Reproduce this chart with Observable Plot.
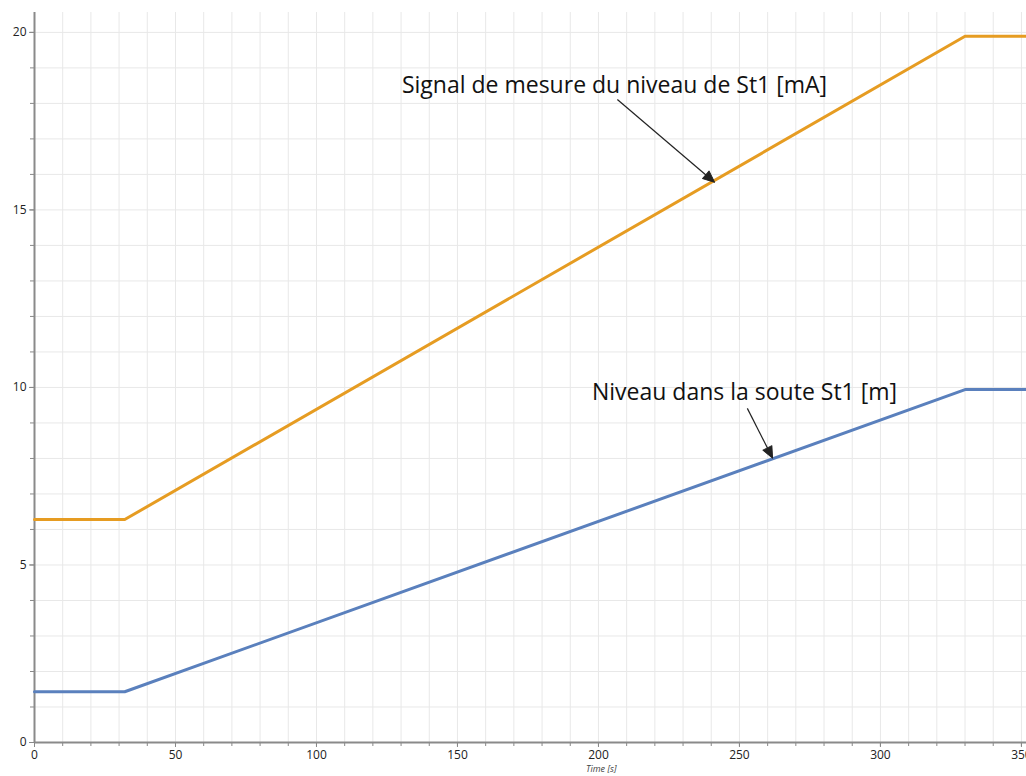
<!DOCTYPE html>
<html>
<head>
<meta charset="utf-8">
<script src="https://cdn.jsdelivr.net/npm/d3@7"></script>
<script src="https://cdn.jsdelivr.net/npm/@observablehq/plot@0.6"></script>
<style>
  html, body { margin: 0; padding: 0; background: #fff; overflow: hidden; }
  #chart svg { display: block; }
</style>
</head>
<body>
<div id="chart"></div>
<script>
// ---- Data ----
const time   = [0, 32, 330, 352];
const signal = [6.28, 6.28, 19.89, 19.89];   // Signal de mesure du niveau de St1 [mA]
const level  = [1.43, 1.43, 9.94, 9.94];     // Niveau dans la soute St1 [m]

const xTickLabels = [0, 50, 100, 150, 200, 250, 300, 350];
const yTickLabels = [0, 5, 10, 15, 20];
const xMinor = d3.range(0, 360, 10);
const yMinor = d3.range(0, 21, 1);

const labelTexts = ["Signal de mesure du niveau de St1 [mA]", "Niveau dans la soute St1 [m]"];
const labelX = [205.7, 251.8];
const labelY = [18.5, 9.86];

const arrowX1 = [206.7, 252.8];
const arrowY1 = [18.11, 9.41];
const arrowX2 = [240.4, 261.3];
const arrowY2 = [15.83, 8.08];

const xTitle = "Time [s]";

// ---- Build tables ----
const signalData = time.map((t, i) => ({t, v: signal[i]}));
const levelData  = time.map((t, i) => ({t, v: level[i]}));
const labels = labelTexts.map((text, i) => ({text, x: labelX[i], y: labelY[i]}));
const arrows = arrowX1.map((x1, i) => ({x1, y1: arrowY1[i], x2: arrowX2[i], y2: arrowY2[i]}));

const font = "Open Sans, Noto Sans, sans-serif";

const chart = Plot.plot({
  width: 1026,
  height: 776,
  marginLeft: 34,
  marginRight: 0,
  marginTop: 12,
  marginBottom: 34,
  style: {fontFamily: font, background: "#fff", overflow: "visible"},
  x: {domain: [0, 351.8]},
  y: {domain: [0, 20.56]},
  marks: [
    Plot.gridX(xMinor, {stroke: "#e8e8e8", strokeOpacity: 1, strokeWidth: 1}),
    Plot.gridY(yMinor, {stroke: "#e8e8e8", strokeOpacity: 1, strokeWidth: 1}),
    Plot.axisX(xMinor, {tickSize: 4, text: null, label: null, stroke: "#888"}),
    Plot.axisX(xTickLabels, {tickSize: 5, tickPadding: 3, fontSize: 12, fill: "#222", stroke: "#888", label: null}),
    Plot.axisY(yMinor, {tickSize: 4, text: null, label: null, stroke: "#888"}),
    Plot.axisY(yTickLabels, {tickSize: 5, tickPadding: 3, fontSize: 12, fill: "#222", stroke: "#888", label: null}),
    Plot.ruleX([0], {stroke: "#8a8a8a", strokeWidth: 2}),
    Plot.ruleY([0], {stroke: "#8a8a8a", strokeWidth: 2}),
    Plot.line(signalData, {x: "t", y: "v", stroke: "#e69c22", strokeWidth: 3}),
    Plot.line(levelData, {x: "t", y: "v", stroke: "#5a80bd", strokeWidth: 3}),
    Plot.text(labels, {x: "x", y: "y", text: "text", fontSize: 23, fill: "#111", textAnchor: "middle"}),
    Plot.link(arrows, {x1: "x1", y1: "y1", x2: "x2", y2: "y2", stroke: "#222", strokeWidth: 1.2, markerEnd: "arrow"}),
    Plot.text([xTitle], {x: 201, frameAnchor: "bottom", dy: 23, lineAnchor: "top", fontSize: 9, fontStyle: "italic", fill: "#444"})
  ]
});

// Make arrowheads solid filled triangles
chart.querySelectorAll("marker path").forEach(p => {
  p.setAttribute("d", "M-4.5,-2.6L1.5,0L-4.5,2.6Z");
  p.setAttribute("fill", "#222");
  p.setAttribute("stroke", "#222");
  p.setAttribute("stroke-width", "0.5");
});
chart.querySelectorAll("marker").forEach(m => {
  m.setAttribute("markerWidth", "16");
  m.setAttribute("markerHeight", "16");
});

document.getElementById("chart").appendChild(chart);
</script>
</body>
</html>
